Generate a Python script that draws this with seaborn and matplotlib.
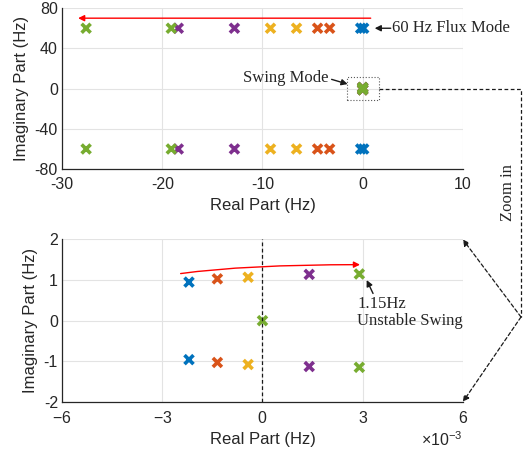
import matplotlib
matplotlib.use('Agg')
import matplotlib.pyplot as plt
from matplotlib.lines import Line2D
from matplotlib.patches import Rectangle
import numpy as np
import pandas as pd
import seaborn as sns


CASE_ORDER = ['C1', 'C2', 'C3', 'C4', 'C5']
CASE_COLORS = ['#0072BD', '#D95319', '#EDB120', '#7E2F8E', '#77AC30']

# 60 Hz flux modes (Hz), upper and lower conjugates
flux_case = ['C1', 'C1', 'C2', 'C2', 'C3', 'C3', 'C4', 'C4', 'C5', 'C5']
flux_re = [-0.2, 0.1, -4.5, -3.3, -9.2, -6.6, -18.4, -12.8, -27.6, -19.1]
flux_im_upper = [60, 60, 60, 60, 60, 60, 60, 60, 60, 60]
flux_im_lower = [-60, -60, -60, -60, -60, -60, -60, -60, -60, -60]

# swing modes, real part in 1e-3 Hz
swing_case = ['C1', 'C1', 'C2', 'C2', 'C3', 'C3', 'C4', 'C4', 'C5', 'C5', 'C5']
swing_re_milli = [-2.2, -2.2, -1.35, -1.35, -0.43, -0.43, 1.4, 1.4, 2.9, 2.9, 0.0]
swing_im = [0.95, -0.96, 1.03, -1.03, 1.07, -1.08, 1.14, -1.13, 1.15, -1.15, 0.0]

SERIF = ['Liberation Serif', 'DejaVu Serif']

sns.set_theme(style='whitegrid')
plt.rcParams['font.family'] = ['Liberation Sans', 'DejaVu Sans']
plt.rcParams.update({
    'axes.unicode_minus': False,
    'axes.edgecolor': '#262626',
    'axes.linewidth': 0.9,
    'grid.color': '#e3e3e3',
    'grid.linewidth': 0.8,
    'xtick.direction': 'in',
    'ytick.direction': 'in',
    'xtick.major.size': 3,
    'ytick.major.size': 3,
    'xtick.major.width': 0.8,
    'ytick.major.width': 0.8,
    'xtick.color': '#262626',
    'ytick.color': '#262626',
    'xtick.major.pad': 6,
    'ytick.major.pad': 3,
    'xtick.labelsize': 11.5,
    'ytick.labelsize': 11.5,
    'axes.labelsize': 12,
    'mathtext.fontset': 'custom',
    'mathtext.rm': 'Liberation Sans',
    'mathtext.it': 'Liberation Sans:italic',
})

palette = dict(zip(CASE_ORDER, CASE_COLORS))

flux_df = pd.concat([
    pd.DataFrame({'case': flux_case, 're': flux_re, 'im': flux_im_upper}),
    pd.DataFrame({'case': flux_case, 're': flux_re, 'im': flux_im_lower}),
])
swing_df = pd.DataFrame({'case': swing_case,
                         're': np.array(swing_re_milli) * 1e-3,
                         'im': swing_im})
case_rank = {c: i for i, c in enumerate(CASE_ORDER)}
all_df = pd.concat([flux_df, swing_df])
all_df = all_df.assign(order=all_df['case'].map(case_rank)).sort_values('order', kind='stable')
swing_sorted = swing_df.assign(order=swing_df['case'].map(case_rank)).sort_values('order', kind='stable')

fig = plt.figure(figsize=(5.26, 4.51), dpi=100)
ax1 = fig.add_axes([0.118, 0.625, 0.762, 0.357])
ax2 = fig.add_axes([0.118, 0.109, 0.762, 0.360])

marker_kw = dict(hue='case', palette=palette, marker='x', s=42, linewidth=2.6, legend=False)

sns.scatterplot(data=all_df, x='re', y='im', ax=ax1, **marker_kw)
ax1.set_xlim(-30, 10)
ax1.set_ylim(-80, 80)
ax1.set_xticks([-30, -20, -10, 0, 10])
ax1.set_yticks([-80, -40, 0, 40, 80])
ax1.set_xlabel('Real Part (Hz)')
ax1.set_ylabel('Imaginary Part (Hz)')

sns.scatterplot(data=swing_sorted, x='re', y='im', ax=ax2, **marker_kw)
ax2.set_xlim(-6e-3, 6e-3)
ax2.set_ylim(-2, 2)
ax2.set_xticks([-6e-3, -3e-3, 0, 3e-3, 6e-3])
ax2.set_yticks([-2, -1, 0, 1, 2])
ax2.ticklabel_format(axis='x', style='sci', scilimits=(0, 0), useMathText=True)
ax2.xaxis.get_offset_text().set_fontsize(11.5)
ax2.set_xlabel('Real Part (Hz)')
ax2.set_ylabel('Imaginary Part (Hz)')
ax2.axvline(0, color='k', ls=(0, (3, 2)), lw=0.9, zorder=1)

for ax in (ax1, ax2):
    sns.despine(ax=ax)
    ax.set_axisbelow(True)

arrow_k = dict(arrowstyle='-|>', color='k', lw=1, mutation_scale=9, shrinkA=0, shrinkB=0)
arrow_r = dict(arrowstyle='-|>', color='red', lw=1, mutation_scale=9, shrinkA=0, shrinkB=0)

# top panel annotations
ax1.annotate('', xy=(-28.4, 70), xytext=(0.8, 70), arrowprops=arrow_r)
ax1.text(2.9, 60, '60 Hz Flux Mode', ha='left', va='center', fontsize=12, family=SERIF)
ax1.annotate('', xy=(1.2, 60), xytext=(2.8, 60), arrowprops=arrow_k)
ax1.add_patch(Rectangle((-1.6, -11.4), 3.2, 22.8, fill=False, ls=':', lw=0.8, ec='0.35'))
ax1.text(-3.4, 10.5, 'Swing Mode', ha='right', va='center', fontsize=12, family=SERIF)
ax1.annotate('', xy=(-1.5, 4.5), xytext=(-3.1, 9.2), arrowprops=arrow_k)

# bottom panel annotations
ax2.annotate('', xy=(2.92e-3, 1.38), xytext=(-2.45e-3, 1.16),
             arrowprops=dict(arrow_r, connectionstyle='angle3,angleA=8,angleB=0'))
ax2.text(2.84e-3, 0.2, '1.15Hz\nUnstable Swing', ha='left', va='center',
         fontsize=12, family=SERIF, linespacing=1.1)
ax2.annotate('', xy=(3.12e-3, 1.0), xytext=(3.31e-3, 0.67), arrowprops=arrow_k)

# zoom-in connector
to_fig = fig.transFigure.inverted()
fig.canvas.draw()
p0 = to_fig.transform(ax1.transData.transform((1.6, 0)))
x_edge = 521 / 526
y_knee = 1 - 317 / 451
fig.add_artist(Line2D([p0[0], x_edge, x_edge], [p0[1], p0[1], y_knee],
                      transform=fig.transFigure, color='k', lw=0.9, ls=(0, (3, 2))))
dash_arrow = dict(arrowstyle='-|>', color='k', lw=0.9, ls=(0, (3, 2)),
                  mutation_scale=9, shrinkA=0, shrinkB=0)
for corner in [(1, 1), (1, 0)]:
    ax2.annotate('', xy=corner, xycoords='axes fraction', xytext=(x_edge, y_knee),
                 textcoords='figure fraction', arrowprops=dash_arrow, annotation_clip=False)
fig.text(508 / 526, 1 - 193 / 451, 'Zoom in', rotation=90, ha='center', va='center',
         fontsize=12, family=SERIF)

fig.savefig('out.png', dpi=100)
